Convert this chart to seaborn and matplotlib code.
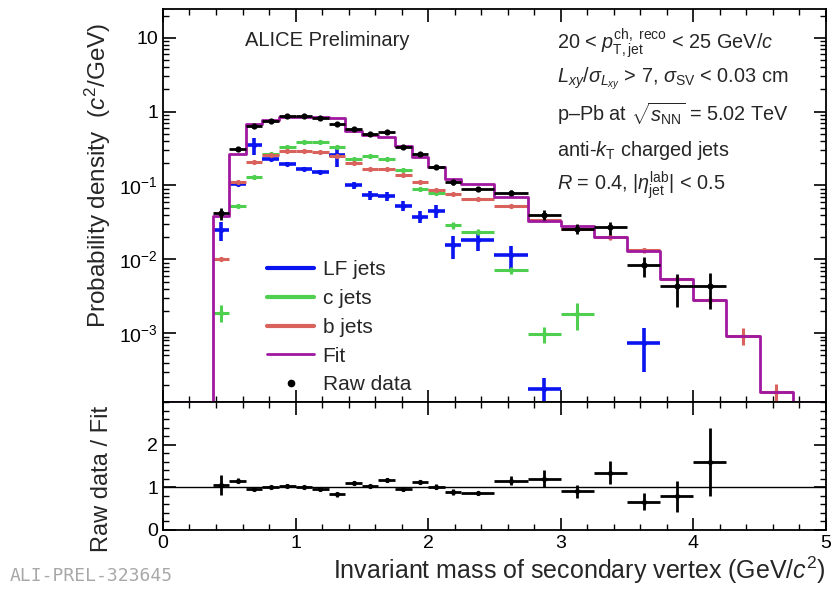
import numpy as np
import matplotlib
matplotlib.use("Agg")
import matplotlib.pyplot as plt
import seaborn as sns
from matplotlib.lines import Line2D
from matplotlib.ticker import FixedLocator, MultipleLocator, LogLocator, FuncFormatter, NullFormatter

# ---------------- data ----------------
bin_edges = [0.375, 0.5, 0.625, 0.75, 0.875, 1.0, 1.125, 1.25, 1.375, 1.5, 1.625,
             1.75, 1.875, 2.0, 2.125, 2.25, 2.5, 2.75, 3.0, 3.25, 3.5, 3.75, 4.0,
             4.25, 4.5, 4.75]

raw_data = [0.042, 0.31, 0.64, 0.75, 0.86, 0.86, 0.81, 0.68, 0.59, 0.50, 0.535,
            0.33, 0.267, 0.18, 0.11, 0.091, 0.080, 0.040, 0.026, 0.027, 0.0083,
            0.0043, 0.0043, np.nan, np.nan]
raw_rel_err = [0.18, 0.05, 0.03, 0.03, 0.03, 0.03, 0.03, 0.04, 0.04, 0.04, 0.04,
               0.05, 0.05, 0.06, 0.07, 0.05, 0.08, 0.16, 0.16, 0.2, 0.3, 0.47, 0.5,
               np.nan, np.nan]

lf_jets = [0.025, 0.105, 0.35, 0.226, 0.195, 0.167, 0.153, 0.258, 0.10, 0.074,
           0.072, 0.053, 0.038, 0.045, 0.0155, 0.0185, 0.0114, 0.000177, np.nan,
           np.nan, 0.00074, np.nan, np.nan, np.nan, np.nan]
lf_rel_err = [0.3, 0.06, 0.25, 0.06, 0.06, 0.07, 0.07, 0.3, 0.1, 0.15, 0.15, 0.15,
              0.18, 0.2, 0.35, 0.3, 0.35, 0.4, np.nan, np.nan, 0.6, np.nan, np.nan,
              np.nan, np.nan]

c_jets = [0.0019, 0.053, 0.129, 0.27, 0.335, 0.39, 0.39, 0.335, 0.226, 0.25, 0.228,
          0.162, 0.089, 0.08, 0.029, 0.0235, 0.0071, 0.00098, 0.00184, np.nan,
          np.nan, np.nan, np.nan, np.nan, np.nan]
c_rel_err = [0.25, 0.05, 0.05, 0.05, 0.05, 0.05, 0.05, 0.05, 0.05, 0.05, 0.05,
             0.06, 0.06, 0.08, 0.1, 0.1, 0.12, 0.25, 0.4, np.nan, np.nan, np.nan,
             np.nan, np.nan, np.nan]

b_jets = [0.0102, 0.112, 0.206, 0.258, 0.296, 0.296, 0.286, 0.25, 0.20, 0.165,
          0.165, 0.138, 0.112, 0.087, 0.076, 0.065, 0.053, 0.034, 0.026, 0.020,
          0.0133, 0.0055, 0.0028, 0.00093, 0.000159]
b_rel_err = [0.05, 0.03, 0.03, 0.03, 0.03, 0.03, 0.03, 0.03, 0.03, 0.03, 0.03,
             0.03, 0.03, 0.03, 0.03, 0.03, 0.04, 0.05, 0.06, 0.08, 0.08, 0.08,
             0.12, 0.25, 0.3]

fit = [0.039, 0.27, 0.69, 0.77, 0.84, 0.85, 0.85, 0.83, 0.55, 0.49, 0.46, 0.345,
       0.24, 0.18, 0.124, 0.105, 0.069, 0.033, 0.028, 0.020, 0.0130, 0.0055,
       0.0028, 0.00093, 0.000159]

ratio = [1.06, 1.16, 0.95, 1.0, 1.04, 1.0, 0.96, 0.84, 1.10, 1.02, 1.17, 0.96,
         1.12, 1.01, 0.89, 0.87, 1.16, 1.2, 0.91, 1.34, 0.66, 0.79, 1.59]
ratio_err = [0.24, 0.05, 0.04, 0.04, 0.04, 0.04, 0.04, 0.06, 0.05, 0.04, 0.05,
             0.05, 0.05, 0.06, 0.06, 0.05, 0.1, 0.2, 0.15, 0.27, 0.2, 0.37, 0.8]

labels = ["LF jets", "c jets", "b jets", "Fit", "Raw data"]

# ---------------- style ----------------
sns.set_theme(style="ticks")
plt.rcParams["font.family"] = ["Liberation Sans", "DejaVu Sans"]
plt.rcParams["mathtext.fontset"] = "custom"
plt.rcParams["mathtext.rm"] = "Liberation Sans"
plt.rcParams["mathtext.it"] = "Liberation Sans:italic"
plt.rcParams["mathtext.bf"] = "Liberation Sans:bold"
plt.rcParams["axes.linewidth"] = 1.3

c_lf = "#0a14f0"
c_c = "#4fcf4f"
c_b = "#d9625c"
c_fit = "#a0189f"
c_raw = "#000000"

edges = np.array(bin_edges)
centers = 0.5 * (edges[:-1] + edges[1:])
halfw = 0.5 * (edges[1:] - edges[:-1])

YMIN, YMAX = 1.17e-4, 24.5

fig = plt.figure(figsize=(8.31, 5.90), dpi=100)
ax = fig.add_axes([0.1961, 0.3186, 0.7978, 0.6661])
ax2 = fig.add_axes([0.1961, 0.1017, 0.7978, 0.2169])

ax.set_yscale("log")


def draw_points(axis, y, rel, color, lw, ms):
    y = np.asarray(y, dtype=float)
    err = y * np.asarray(rel, dtype=float)
    m = ~np.isnan(y)
    axis.errorbar(centers[m], y[m], xerr=halfw[m], yerr=err[m], fmt="none",
                  ecolor=color, elinewidth=lw, capsize=0, zorder=3)
    sns.scatterplot(x=centers[m], y=y[m], color=color, s=ms, linewidth=0,
                    ax=axis, zorder=4, legend=False)


draw_points(ax, lf_jets, lf_rel_err, c_lf, 2.6, 14)
draw_points(ax, c_jets, c_rel_err, c_c, 2.2, 14)
draw_points(ax, b_jets, b_rel_err, c_b, 2.2, 14)

# fit histogram (steps)
step_x = np.concatenate([[0.0], edges, [5.0]])
step_y = np.concatenate([[YMIN], np.asarray(fit), [YMIN, YMIN]])
sns.lineplot(x=step_x, y=step_y, drawstyle="steps-post", estimator=None,
             sort=False, color=c_fit, lw=2.0, ax=ax, zorder=5)

# raw data
raw = np.asarray(raw_data, dtype=float)
m = ~np.isnan(raw)
ax.errorbar(centers[m], raw[m], xerr=halfw[m], yerr=(raw * np.asarray(raw_rel_err))[m],
            fmt="none", ecolor=c_raw, elinewidth=2.0, capsize=0, zorder=6)
sns.scatterplot(x=centers[m], y=raw[m], color=c_raw, s=20, linewidth=0, ax=ax,
                zorder=7, legend=False)

ax.set_xlim(0, 5)
ax.set_ylim(YMIN, YMAX)
ax.yaxis.set_major_locator(FixedLocator([1e-3, 1e-2, 1e-1, 1, 10]))
ax.yaxis.set_minor_locator(LogLocator(base=10, subs=np.arange(2, 10), numticks=20))
ytl = {1e-3: r"$10^{-3}$", 1e-2: r"$10^{-2}$", 1e-1: r"$10^{-1}$", 1: "1", 10: "10"}
ax.yaxis.set_major_formatter(FuncFormatter(lambda v, p: ytl.get(round(v, 6) if v < 1 else v, "")))
ax.yaxis.set_minor_formatter(NullFormatter())
ax.xaxis.set_major_locator(MultipleLocator(1))
ax.xaxis.set_minor_locator(MultipleLocator(0.2))
ax.tick_params(axis="x", labelbottom=False)
for a in (ax, ax2):
    a.tick_params(which="both", direction="in", top=True, right=True, colors="black")
    a.tick_params(which="major", length=9, width=1.2, labelsize=14)
    a.tick_params(which="minor", length=4.5, width=1.0)
    for s in a.spines.values():
        s.set_color("black")

ax.set_ylabel(r"Probability density  ($c^2$/GeV)", fontsize=17.5)
ax.yaxis.set_label_coords(-0.075, 0.578)

# annotations
ax.text(0.124, 0.921, "ALICE Preliminary", transform=ax.transAxes, fontsize=14.5,
        va="center", ha="left")
info = [
    r"20 < $p_{\mathrm{T,jet}}^{\mathrm{ch,\ reco}}$ < 25 GeV/$c$",
    r"$L_{xy}/\sigma_{L_{xy}}$ > 7, $\sigma_{\mathrm{SV}}$ < 0.03 cm",
    r"p–Pb at $\sqrt{s_{\mathrm{NN}}}$ = 5.02 TeV",
    r"anti-$k_{\mathrm{T}}$ charged jets",
    r"$R$ = 0.4, $|\eta_{\mathrm{jet}}^{\mathrm{lab}}|$ < 0.5",
]
info_y = [0.913, 0.824, 0.735, 0.641, 0.552]
for t, yy in zip(info, info_y):
    ax.text(0.594, yy, t, transform=ax.transAxes, fontsize=14.3, va="center", ha="left")

# legend
handles = [
    Line2D([], [], color=c_lf, lw=3),
    Line2D([], [], color=c_c, lw=3),
    Line2D([], [], color=c_b, lw=3),
    Line2D([], [], color=c_fit, lw=2),
    Line2D([], [], color=c_raw, lw=0, marker="o", ms=4.5),
]
ax.legend(handles, labels, loc="upper left", bbox_to_anchor=(0.145, 0.382),
          frameon=False, fontsize=15, handlelength=2.25, labelspacing=0.47,
          handletextpad=0.4, borderaxespad=0)

# ratio panel
ax2.axhline(1.0, color="black", lw=1.0, zorder=1)
r = np.asarray(ratio)
n = len(r)
ax2.errorbar(centers[:n], r, xerr=halfw[:n], yerr=ratio_err, fmt="none",
             ecolor="black", elinewidth=2.0, capsize=0, zorder=3)
sns.scatterplot(x=centers[:n], y=r, color="black", s=14, linewidth=0, ax=ax2,
                zorder=4, legend=False)
ax2.set_xlim(0, 5)
ax2.set_ylim(0, 3.0)
ax2.yaxis.set_major_locator(FixedLocator([0, 1, 2]))
ax2.yaxis.set_minor_locator(MultipleLocator(0.2))
ax2.xaxis.set_major_locator(MultipleLocator(1))
ax2.xaxis.set_minor_locator(MultipleLocator(0.2))
ax2.set_ylabel("Raw data / Fit", fontsize=17)
ax2.yaxis.set_label_coords(-0.075, 0.4)
ax2.set_xlabel(r"Invariant mass of secondary vertex (GeV/$c^2$)", fontsize=18, loc="right")
ax2.xaxis.set_label_coords(1.0, -0.19)

fig.text(0.012, 0.008, "ALI-PREL-323645", fontsize=13, color="#a8a8a8",
         family="DejaVu Sans Mono", ha="left", va="bottom")

fig.savefig("out.png", dpi=100, facecolor="white")
